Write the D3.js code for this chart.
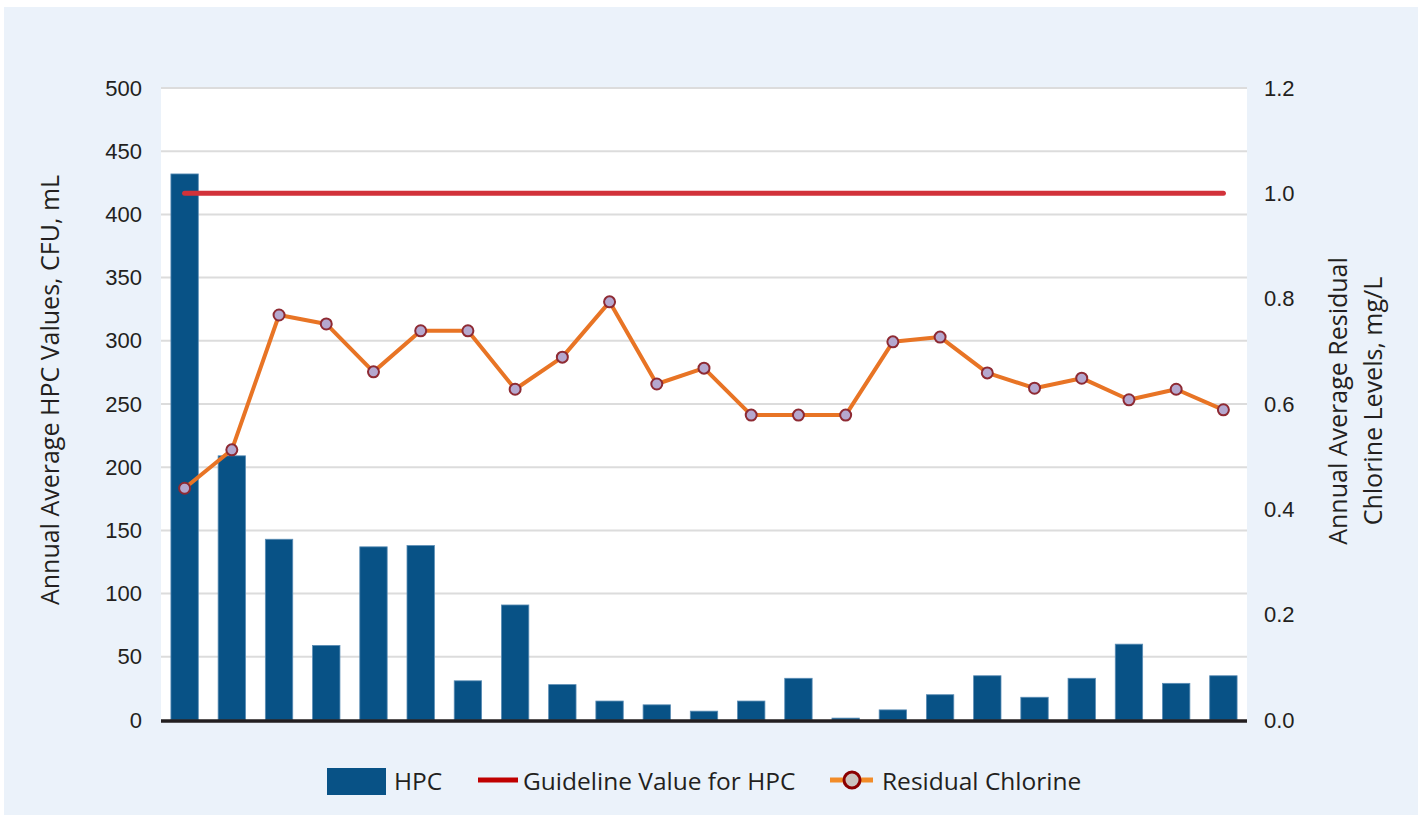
<!DOCTYPE html>
<html><head><meta charset="utf-8">
<script src="https://cdn.jsdelivr.net/npm/d3@7"></script>
<style>
body{margin:0;background:#fff;}
svg{display:block;font-family:"Open Sans","Lato",sans-serif;}
</style></head>
<body>
<svg id="chart" width="1424" height="821"></svg>
<script>
const categories = d3.range(1, 24).map(String);
const hpcValues = [432, 209, 143, 59, 137, 138, 31, 91, 28, 15, 12, 7, 15, 33, 1.5, 8, 20, 35, 18, 33, 60, 29, 35];
const chlorineValues = [0.44, 0.513, 0.769, 0.752, 0.661, 0.739, 0.739, 0.628, 0.689, 0.794, 0.638, 0.668, 0.579, 0.579, 0.579, 0.718, 0.727, 0.659, 0.630, 0.649, 0.608, 0.628, 0.589];
const guidelineValue = 1.0; // on right axis
const leftTicks = [0, 50, 100, 150, 200, 250, 300, 350, 400, 450, 500];
const rightTicks = [0, 0.2, 0.4, 0.6, 0.8, 1.0, 1.2];
const legendItems = ["HPC", "Guideline Value for HPC", "Residual Chlorine"];

const svg = d3.select("#chart");
svg.append("rect").attr("x",4).attr("y",7).attr("width",1414).attr("height",808).attr("fill","#ebf2fa");

const m = {left:161, right:1247, top:88, bottom:720};
svg.append("rect").attr("x",m.left).attr("y",m.top).attr("width",m.right-m.left).attr("height",m.bottom-m.top).attr("fill","#fff");

const x = d3.scaleBand().domain(categories).range([m.left, m.right]).paddingInner(0.42).paddingOuter(0.21);
const yL = d3.scaleLinear().domain([0,500]).range([m.bottom, m.top]);
const yR = d3.scaleLinear().domain([0,1.2]).range([m.bottom, m.top]);

// gridlines
svg.append("g").selectAll("line").data(leftTicks.filter(d=>d>0)).join("line")
  .attr("x1",m.left).attr("x2",m.right).attr("y1",d=>yL(d)).attr("y2",d=>yL(d))
  .attr("stroke","#dcdcdc").attr("stroke-width",2);

// left axis
const gl = svg.append("g").attr("transform",`translate(${m.left},0)`)
  .call(d3.axisLeft(yL).tickValues(leftTicks).tickSize(0).tickPadding(19).tickFormat(d3.format("d")));
gl.select(".domain").remove();
gl.selectAll("text").attr("font-size",22).attr("fill","#231f20");

// right axis
const gr = svg.append("g").attr("transform",`translate(${m.right},0)`)
  .call(d3.axisRight(yR).tickValues(rightTicks).tickSize(0).tickPadding(17).tickFormat(d3.format(".1f")));
gr.select(".domain").remove();
gr.selectAll("text").attr("font-size",22).attr("fill","#231f20");

// bars
svg.append("g").selectAll("rect").data(hpcValues).join("rect")
  .attr("x",(d,i)=>x(categories[i])).attr("width",x.bandwidth())
  .attr("y",d=>yL(d)).attr("height",d=>m.bottom-yL(d))
  .attr("fill","#085286").attr("stroke","#5b8db5").attr("stroke-width",0.8);

// baseline
svg.append("line").attr("x1",m.left).attr("x2",m.right).attr("y1",m.bottom+1).attr("y2",m.bottom+1)
  .attr("stroke","#231f20").attr("stroke-width",3.5);

// guideline
const cx = i => x(categories[i]) + x.bandwidth()/2;
svg.append("line").attr("x1",cx(0)).attr("x2",cx(categories.length-1))
  .attr("y1",yR(guidelineValue)).attr("y2",yR(guidelineValue))
  .attr("stroke","#d2323a").attr("stroke-width",5).attr("stroke-linecap","round");

// chlorine line
svg.append("path").datum(chlorineValues)
  .attr("d", d3.line().x((d,i)=>cx(i)).y(d=>yR(d)))
  .attr("fill","none").attr("stroke","#e87425").attr("stroke-width",4).attr("stroke-linejoin","round");
svg.append("g").selectAll("circle").data(chlorineValues).join("circle")
  .attr("cx",(d,i)=>cx(i)).attr("cy",d=>yR(d)).attr("r",5.5)
  .attr("fill","#b5a8cf").attr("stroke","#8e2a33").attr("stroke-width",2);

// axis titles
svg.append("text").attr("transform","translate(59,390) rotate(-90)").attr("text-anchor","middle")
  .attr("font-size",25).attr("fill","#231f20").text("Annual Average HPC Values, CFU, mL");
const rt = svg.append("text").attr("transform","translate(1347,401) rotate(-90)").attr("text-anchor","middle")
  .attr("font-size",25).attr("fill","#231f20");
rt.append("tspan").attr("x",0).attr("dy",0).text("Annual Average Residual");
rt.append("tspan").attr("x",0).attr("dy",35).text("Chlorine Levels, mg/L");

// legend
const lg = svg.append("g").attr("font-size",24.5).attr("fill","#231f20");
lg.append("rect").attr("x",327).attr("y",768).attr("width",59).attr("height",27).attr("fill","#085286");
lg.append("text").attr("x",394).attr("y",790).text(legendItems[0]);
lg.append("line").attr("x1",478).attr("x2",518).attr("y1",780).attr("y2",780).attr("stroke","#c00000").attr("stroke-width",5);
lg.append("text").attr("x",523).attr("y",790).text(legendItems[1]);
lg.append("line").attr("x1",830).attr("x2",873).attr("y1",780).attr("y2",780).attr("stroke","#f28c28").attr("stroke-width",5);
lg.append("circle").attr("cx",852).attr("cy",780).attr("r",8).attr("fill","#cbc3bf").attr("stroke","#8b0000").attr("stroke-width",3);
lg.append("text").attr("x",882).attr("y",790).text(legendItems[2]);
</script>
</body></html>
